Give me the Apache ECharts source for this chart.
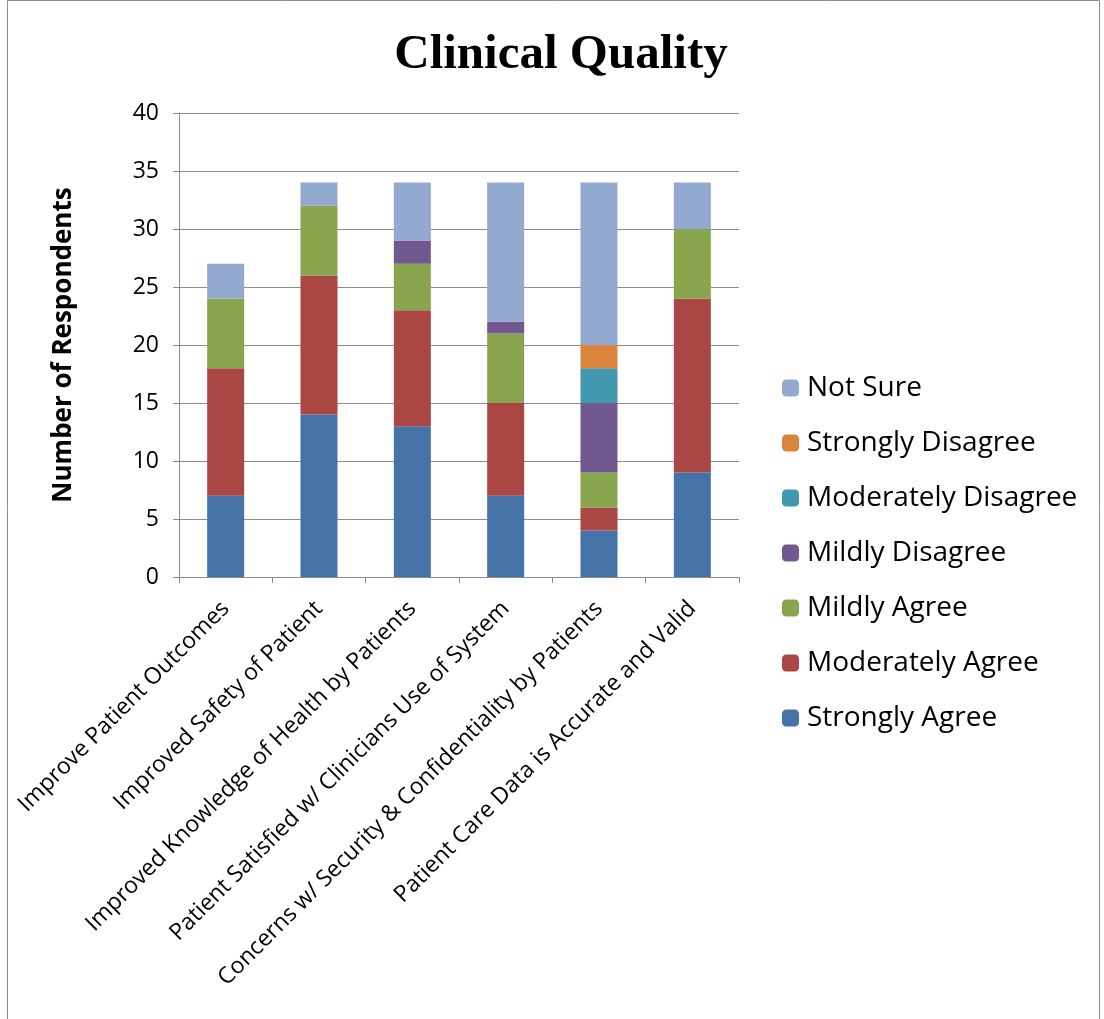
<!DOCTYPE html>
<html><head><meta charset="utf-8">
<script src="https://cdn.jsdelivr.net/npm/echarts@6/dist/echarts.min.js"></script>
<style>html,body{margin:0;padding:0;background:#fff}#c{width:1104px;height:1019px}</style>
</head><body><div id="c"></div>
<script>
const categories = ["Improve Patient Outcomes","Improved Safety of Patient","Improved Knowledge of Health by Patients","Patient Satisfied w/ Clinicians Use of System","Concerns w/ Security & Confidentiality by Patients","Patient Care Data is Accurate and Valid"];
const stronglyAgree      = [7, 14, 13, 7, 4, 9];
const moderatelyAgree    = [11, 12, 10, 8, 2, 15];
const mildlyAgree        = [6, 6, 4, 6, 3, 6];
const mildlyDisagree     = [0, 0, 2, 1, 6, 0];
const moderatelyDisagree = [0, 0, 0, 0, 3, 0];
const stronglyDisagree   = [0, 0, 0, 0, 2, 0];
const notSure            = [3, 2, 5, 12, 14, 4];
const yTicks = [0, 5, 10, 15, 20, 25, 30, 35, 40];

const seriesDefs = [
  ["Strongly Agree", stronglyAgree, "#4572A7"],
  ["Moderately Agree", moderatelyAgree, "#AA4643"],
  ["Mildly Agree", mildlyAgree, "#89A54E"],
  ["Mildly Disagree", mildlyDisagree, "#71588F"],
  ["Moderately Disagree", moderatelyDisagree, "#4198AF"],
  ["Strongly Disagree", stronglyDisagree, "#DB843D"],
  ["Not Sure", notSure, "#93A9CF"]
];
const font = "'Open Sans', 'Liberation Sans', sans-serif";
const chart = echarts.init(document.getElementById('c'), null, {renderer: 'canvas'});
chart.setOption({
  animation: false,
  backgroundColor: '#fff',
  title: {text: 'Clinical Quality', left: 556, top: 26, textAlign: 'center',
    textStyle: {fontFamily: "'Liberation Serif', 'DejaVu Serif', serif", fontWeight: 'bold', fontSize: 49, color: '#000'}},
  graphic: [{type: 'rect', shape: {x: 7.5, y: 0.5, width: 1092, height: 1030}, style: {fill: 'none', stroke: '#8c8c8c', lineWidth: 1}, silent: true}],
  legend: {
    orient: 'vertical', left: 777, top: 369, itemWidth: 17, itemHeight: 17, itemGap: 27,
    data: seriesDefs.map(s => s[0]).reverse(),
    textStyle: {fontFamily: font, fontSize: 28, color: '#000', padding: [0, 0, 0, 3]}
  },
  grid: {left: 179, right: 365, top: 113, bottom: 442},
  xAxis: {
    type: 'category', data: categories,
    axisLine: {lineStyle: {color: '#8c8c8c'}},
    axisTick: {show: true, alignWithLabel: false, length: 6, lineStyle: {color: '#8c8c8c'}},
    axisLabel: {rotate: 45, interval: 0, fontFamily: font, fontSize: 23, color: '#000', margin: 28}
  },
  yAxis: {
    type: 'value', min: 0, max: 40, interval: 5,
    name: 'Number of Respondents', nameLocation: 'middle', nameGap: 102, nameRotate: 90,
    nameTextStyle: {fontFamily: font, fontSize: 26, fontWeight: 'bold', color: '#000'},
    axisLine: {show: true, lineStyle: {color: '#8c8c8c'}},
    axisTick: {show: true, length: 6, inside: false, lineStyle: {color: '#8c8c8c'}},
    splitLine: {lineStyle: {color: '#8c8c8c'}},
    axisLabel: {fontFamily: font, fontSize: 23, color: '#000', margin: 20,
      formatter: v => yTicks.includes(v) ? String(v) : ''}
  },
  series: seriesDefs.map(s => ({
    name: s[0], type: 'bar', stack: 'all', data: s[1], barWidth: 37,
    itemStyle: {color: s[2]}
  }))
});
</script></body></html>
